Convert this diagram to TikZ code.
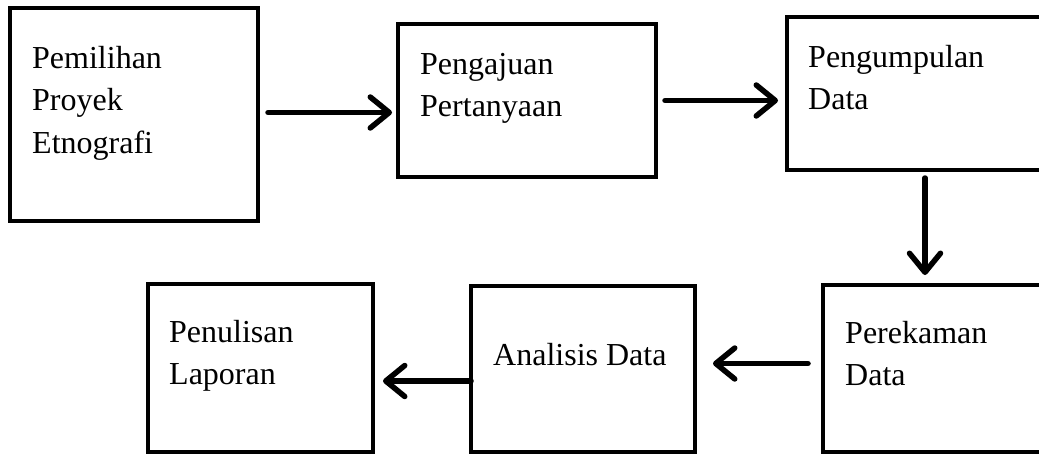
\documentclass[tikz,border=0pt]{standalone}
\usepackage{fontspec}
\setmainfont{Liberation Serif}
\usetikzlibrary{positioning, arrows.meta}
\tikzset{
  stagebox/.style={
    rectangle, draw=black, fill=white,
    line width=4.5pt, outer sep=0pt, inner sep=0pt
  },
  stagetext/.style={
    inner sep=0pt, align=left,
    font=\fontsize{32pt}{42.5pt}\selectfont
  },
  flow/.style={line width=5.5pt, line cap=round,
    -{Straight Barb[length=19pt, width=31pt, line cap=round, line join=round]}}
}

\begin{document}
\begin{tikzpicture}[x=1pt, y=-1pt]

\useasboundingbox (0,0) rectangle (1039,453);
\clip (0,0) rectangle (1039,453);

% ==============================================================================
% Top row
% ==============================================================================
\node[stagebox, anchor=north west, minimum width=248pt, minimum height=213pt]
  (pilih) at (10,8) {};
\node[stagetext, below right=38pt and 22pt of pilih.north west] (pilihtxt) {
  Pemilihan\\Proyek\\Etnografi
};

\node[stagebox, anchor=north west, minimum width=258pt, minimum height=153pt]
  (ajuan) at (398,24) {};
\node[stagetext, below right=29pt and 22pt of ajuan.north west] (ajuantxt) {
  Pengajuan\\Pertanyaan
};

\node[stagebox, anchor=north west, minimum width=258pt, minimum height=153pt]
  (kumpul) at (787,17) {};
\node[stagetext, below right=28pt and 21pt of kumpul.north west] (kumpultxt) {
  Pengumpulan\\Data
};

% ==============================================================================
% Bottom row
% ==============================================================================
\node[stagebox, anchor=north west, minimum width=224pt, minimum height=167pt]
  (rekam) at (823,285) {};
\node[stagetext, below right=36pt and 22pt of rekam.north west] (rekamtxt) {
  Perekaman\\Data
};

\node[stagebox, anchor=north west, minimum width=224pt, minimum height=166pt]
  (analisis) at (471,286) {};
\node[stagetext, below right=57pt and 22pt of analisis.north west] (analisistxt) {
  Analisis Data
};

\node[stagebox, anchor=north west, minimum width=225pt, minimum height=168pt]
  (tulis) at (148,284) {};
\node[stagetext, below right=36pt and 21pt of tulis.north west] (tulistxt) {
  Penulisan\\Laporan
};

% ==============================================================================
% Arrows
% ==============================================================================
\draw[flow] ([xshift=10pt,yshift=2pt]pilih.east) -- ([xshift=-6pt,yshift=2pt]ajuan.west |- pilih.east);
\draw[flow] ([xshift=9pt]ajuan.east) -- ([xshift=-9pt]kumpul.west |- ajuan.east);
\draw[flow] ([xshift=9pt,yshift=-8pt]kumpul.south) -- ([xshift=9pt,yshift=10pt]kumpul.south |- rekam.north);
\draw[flow] ([xshift=-15pt,yshift=5pt]rekam.west) -- ([xshift=18pt,yshift=5pt]analisis.east |- rekam.west);
\draw[flow] ([yshift=-12pt]analisis.west) -- ([xshift=10pt,yshift=-12pt]tulis.east |- analisis.west);

\end{tikzpicture}
\end{document}
